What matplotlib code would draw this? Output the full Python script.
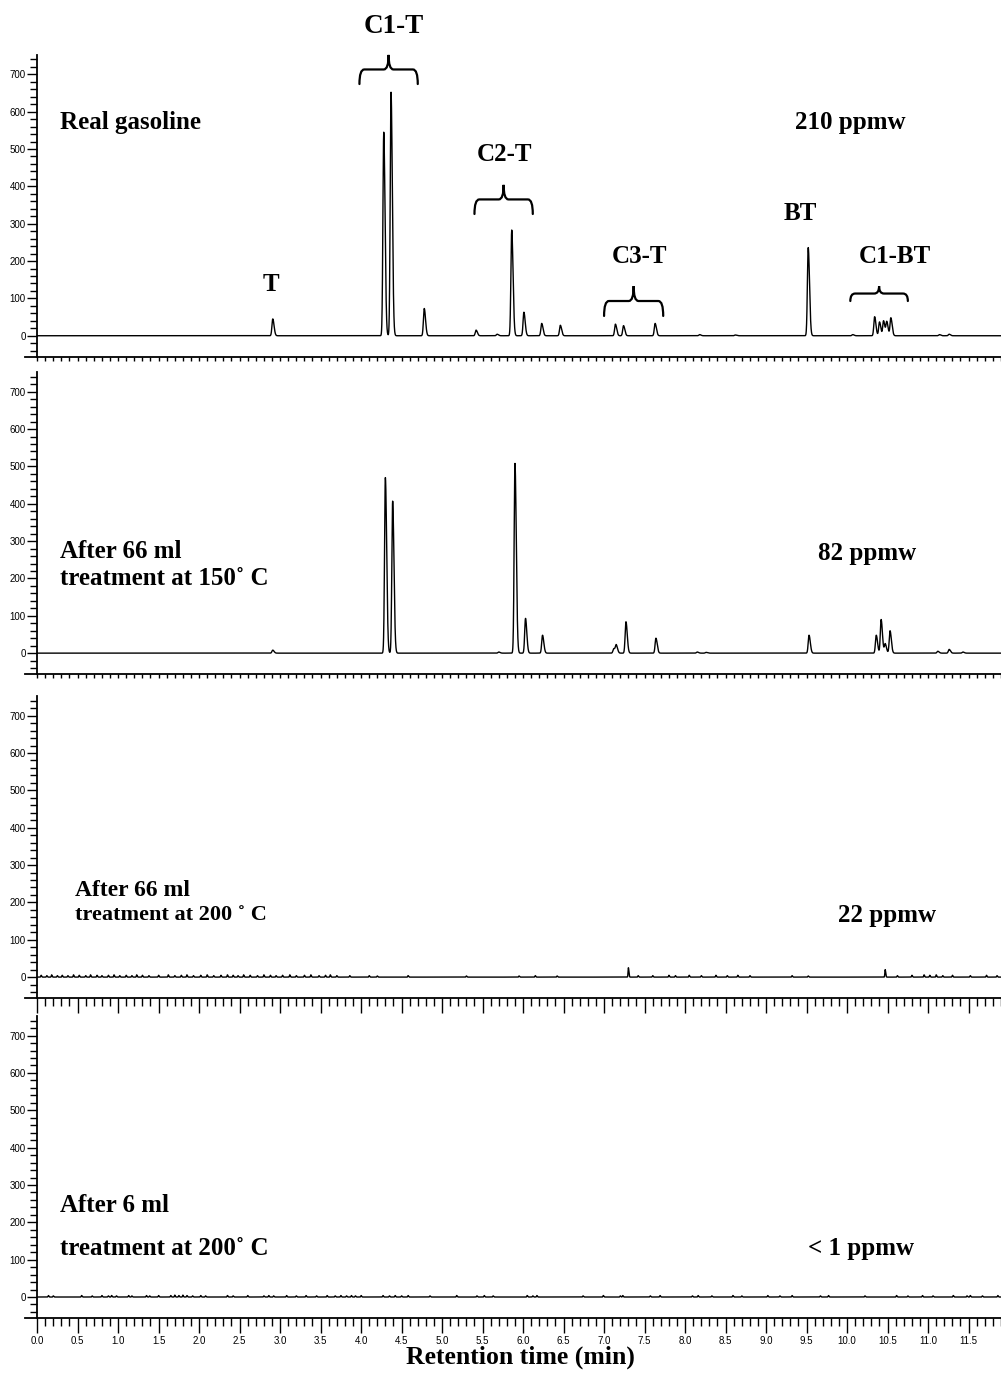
import numpy as np
import matplotlib
matplotlib.use("Agg")
import matplotlib.pyplot as plt
from matplotlib.path import Path
from matplotlib.patches import PathPatch
from matplotlib.ticker import MultipleLocator, FormatStrFormatter

SERIF = ["Liberation Serif", "DejaVu Serif"]
SANS = ["Liberation Sans", "DejaVu Sans"]

# Peak tables: retention time (min) and signal height for each run
GAS_RT = [2.91, 4.28, 4.37, 4.78, 5.42, 5.68, 5.86, 6.01, 6.23, 6.46,
          7.14, 7.24, 7.63, 8.18, 8.62, 9.52, 10.07,
          10.34, 10.40, 10.45, 10.49, 10.54, 11.14, 11.26]
GAS_H = [45, 545, 652, 73, 15, 4, 283, 63, 33, 28,
         31, 27, 33, 3, 2, 236, 3,
         51, 37, 40, 37, 48, 3, 4]

T150_RT = [2.91, 4.30, 4.39, 5.70, 5.90, 6.03, 6.24, 7.12, 7.15, 7.27,
           7.64, 8.15, 8.26, 9.53, 10.36, 10.42, 10.47, 10.53,
           11.12, 11.26, 11.43]
T150_H = [8, 470, 407, 3, 508, 93, 48, 12, 21, 84,
          40, 3, 2, 48, 48, 90, 25, 60,
          5, 10, 3]

T200_RT = [0.05, 0.12, 0.18, 0.25, 0.31, 0.38, 0.45, 0.52, 0.60, 0.66,
           0.74, 0.80, 0.88, 0.95, 1.02, 1.10, 1.17, 1.23, 1.30, 1.38,
           1.50, 1.62, 1.70, 1.78, 1.85, 1.93, 2.02, 2.10, 2.18, 2.27,
           2.35, 2.42, 2.48, 2.55, 2.63, 2.72, 2.80, 2.88, 2.95, 3.03,
           3.12, 3.20, 3.30, 3.38, 3.48, 3.56, 3.62, 3.70, 3.86, 4.10,
           4.20, 4.58, 5.30, 5.95, 6.15, 6.42, 7.30, 7.42, 7.60, 7.80,
           7.88, 8.05, 8.20, 8.38, 8.52, 8.65, 8.80, 9.32, 9.52, 10.47,
           10.62, 10.80, 10.95, 11.02, 11.10, 11.18, 11.30, 11.52, 11.72, 11.85]
T200_H = [5, 4, 6, 4, 5, 4, 6, 5, 4, 6,
          5, 4, 5, 6, 4, 5, 4, 6, 5, 4,
          5, 6, 4, 5, 6, 4, 5, 6, 4, 5,
          6, 5, 4, 6, 5, 4, 6, 5, 4, 5,
          6, 4, 5, 6, 4, 5, 6, 4, 4, 4,
          3, 4, 3, 3, 4, 3, 25, 4, 4, 5,
          4, 5, 4, 5, 4, 5, 4, 4, 3, 20,
          4, 5, 6, 5, 6, 4, 5, 4, 5, 4]

T6_RT = [0.14, 0.20, 0.55, 0.68, 0.80, 0.88, 0.92, 0.98, 1.13, 1.17,
         1.35, 1.39, 1.50, 1.65, 1.70, 1.75, 1.80, 1.85, 1.92, 2.02,
         2.08, 2.35, 2.42, 2.60, 2.80, 2.86, 2.92, 3.08, 3.20, 3.32,
         3.45, 3.58, 3.68, 3.75, 3.82, 3.88, 3.93, 4.00, 4.27, 4.35,
         4.42, 4.50, 4.58, 4.85, 5.18, 5.43, 5.52, 5.63, 6.05, 6.12,
         6.17, 6.74, 6.99, 7.20, 7.23, 7.57, 7.69, 8.09, 8.16, 8.33,
         8.59, 8.70, 9.02, 9.17, 9.32, 9.67, 9.77, 10.22, 10.61, 10.75,
         10.93, 11.06, 11.31, 11.48, 11.52, 11.67, 11.86]
T6_H = [4, 3, 4, 3, 4, 3, 4, 3, 4, 3,
        4, 3, 4, 4, 5, 4, 5, 4, 3, 4,
        3, 4, 3, 4, 3, 4, 3, 4, 3, 4,
        3, 4, 3, 4, 3, 4, 3, 4, 4, 3,
        4, 3, 4, 3, 4, 3, 4, 3, 4, 3,
        4, 3, 4, 3, 4, 3, 4, 3, 4, 3,
        4, 3, 4, 3, 4, 3, 4, 3, 4, 3,
        4, 3, 4, 3, 4, 3, 4]

RUNS = [
    (GAS_RT, GAS_H, 0.010),
    (T150_RT, T150_H, 0.010),
    (T200_RT, T200_H, 0.004),
    (T6_RT, T6_H, 0.004),
]

X_MAX = 11.9
Y_MIN, Y_MAX = -56, 752


def trace(rts, heights, sigma, t):
    y = np.zeros_like(t)
    for rt, h in zip(rts, heights):
        # slightly tailing peak: wider on the late side
        s = np.where(t < rt, sigma, sigma * 1.6)
        y += h * np.exp(-0.5 * ((t - rt) / s) ** 2)
    return y


def brace(ax, x0, x1, y_end, y_tip):
    xm = (x0 + x1) / 2
    ya = (y_end + y_tip) / 2
    r = 0.06
    verts = [(x0, y_end), (x0, ya), (x0 + r, ya),
             (xm - r, ya), (xm, ya), (xm, y_tip),
             (xm, ya), (xm + r, ya),
             (x1 - r, ya), (x1, ya), (x1, y_end)]
    codes = [Path.MOVETO, Path.CURVE3, Path.CURVE3,
             Path.LINETO, Path.CURVE3, Path.CURVE3,
             Path.CURVE3, Path.CURVE3,
             Path.LINETO, Path.CURVE3, Path.CURVE3]
    ax.add_patch(PathPatch(Path(verts, codes), fill=False, lw=1.6,
                           color="black", clip_on=False, capstyle="round"))


fig = plt.figure(figsize=(10.01, 13.97), dpi=100)
bottoms = [0.7447, 0.5175, 0.2856, 0.0566]
height = 0.216
t = np.arange(0, X_MAX, 0.001)

axes = []
for i, (rts, hs, sig) in enumerate(RUNS):
    ax = fig.add_axes([0.037, bottoms[i], 0.963, height])
    ax.plot(t, trace(rts, hs, sig, t), color="black", lw=1.0)
    ax.set_xlim(0, X_MAX)
    ax.set_ylim(Y_MIN, Y_MAX)
    for s in ("top", "right"):
        ax.spines[s].set_visible(False)
    ax.spines["bottom"].set_bounds(-0.15, X_MAX)
    ax.spines["left"].set_linewidth(1.3)
    ax.spines["bottom"].set_linewidth(1.3)

    ax.yaxis.set_minor_locator(MultipleLocator(20))
    ax.set_yticks(range(0, 701, 100))
    ax.tick_params(axis="y", which="major", length=7, width=1, labelsize=7, pad=1)
    ax.tick_params(axis="y", which="minor", length=5, width=1)
    for lab in ax.get_yticklabels():
        lab.set_family(SANS)

    ax.xaxis.set_major_locator(MultipleLocator(0.5))
    ax.xaxis.set_minor_locator(MultipleLocator(0.1))
    if i < 2:
        ax.tick_params(axis="x", which="both", length=3, width=1, labelbottom=False)
    else:
        ax.tick_params(axis="x", which="major", length=11, width=1)
        ax.tick_params(axis="x", which="minor", length=6, width=1)
        if i == 2:
            ax.tick_params(axis="x", labelbottom=False)
        else:
            ax.xaxis.set_major_formatter(FormatStrFormatter("%.1f"))
            ax.tick_params(axis="x", labelsize=7, pad=2)
            for lab in ax.get_xticklabels():
                lab.set_family(SANS)
    axes.append(ax)

lab = dict(family=SERIF, fontweight="bold", fontsize=18, color="black")

# Panel 1: real gasoline with compound groups
ax = axes[0]
ax.text(0.28, 572, "Real gasoline", ha="left", va="center", **lab)
ax.text(9.36, 572, "210 ppmw", ha="left", va="center", **lab)
ax.text(4.40, 827, "C1-T", ha="center", va="center", clip_on=False,
        **{**lab, "fontsize": 19.5})
ax.text(5.77, 484, "C2-T", ha="center", va="center", **lab)
ax.text(2.89, 136, "T", ha="center", va="center", **lab)
ax.text(7.44, 211, "C3-T", ha="center", va="center", **lab)
ax.text(9.42, 328, "BT", ha="center", va="center", **lab)
ax.text(10.59, 211, "C1-BT", ha="center", va="center", **lab)
brace(ax, 3.98, 4.70, 674, 752)
brace(ax, 5.40, 6.12, 326, 404)
brace(ax, 7.00, 7.73, 53, 133)
brace(ax, 10.04, 10.75, 93, 133)

# Panel 2
ax = axes[1]
ax.text(0.28, 273, "After 66 ml", ha="left", va="center", **lab)
ax.text(0.28, 201, "treatment at 150˚ C", ha="left", va="center", **lab)
ax.text(9.64, 268, "82 ppmw", ha="left", va="center", **lab)

# Panel 3
ax = axes[2]
ax.text(0.47, 233, "After 66 ml", ha="left", va="center", **{**lab, "fontsize": 17})
ax.text(0.47, 166, "treatment at 200 ˚ C", ha="left", va="center",
        **{**lab, "fontsize": 16})
ax.text(9.89, 166, "22 ppmw", ha="left", va="center", **lab)

# Panel 4
ax = axes[3]
ax.text(0.28, 246, "After 6 ml", ha="left", va="center", **lab)
ax.text(0.28, 131, "treatment at 200˚ C", ha="left", va="center", **lab)
ax.text(9.52, 131, "< 1 ppmw", ha="left", va="center", **lab)

fig.text(520 / 1001, 1 - 1357 / 1397, "Retention time (min)", ha="center",
         va="center", family=SERIF, fontweight="bold", fontsize=18.5)

fig.savefig("out.png", dpi=100, facecolor="white")
